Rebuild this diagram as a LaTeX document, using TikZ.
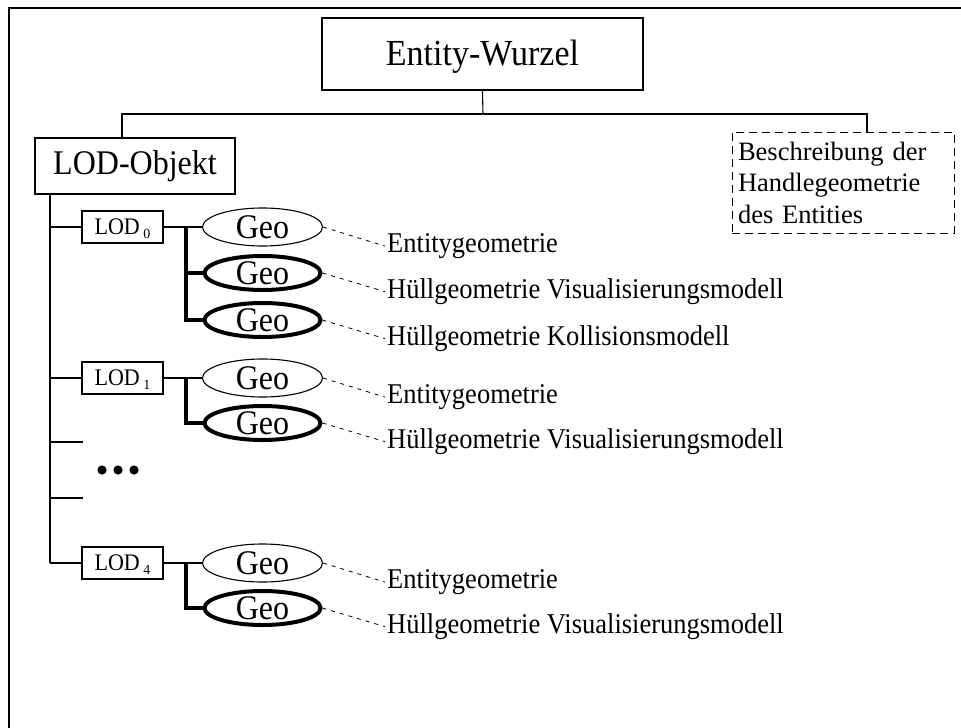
\documentclass[tikz,border=0pt]{standalone}
\usepackage{fontspec}
\setmainfont{Liberation Serif}
\usetikzlibrary{shapes.geometric,calc}
\begin{document}
\begin{tikzpicture}[x=1pt,y=-1pt,
  link/.style={line width=1.1pt},
  boxnode/.style={draw, line width=1.1pt, rectangle, inner sep=0pt},
  dashnote/.style={draw, line width=1pt, dash pattern=on 8pt off 5pt, rectangle,
    inner xsep=6pt, inner ysep=0pt, align=left, text width=210pt,
    font=\fontsize{26.5}{31.5}\selectfont},
  lodbox/.style={boxnode, minimum width=81pt, minimum height=32pt,
    font=\fontsize{22}{22}\selectfont, text height=15pt, text depth=1pt},
  geo/.style={ellipse, draw, line width=1.1pt, minimum width=120pt, minimum height=38pt,
    inner sep=0pt, font=\fontsize{32}{32}\selectfont},
  geohull/.style={geo, line width=4pt, minimum width=116pt, minimum height=34pt},
  hullbranch/.style={line width=3.5pt},
  note/.style={anchor=base west, inner sep=2pt, font=\fontsize{26.5}{26.5}\selectfont},
  leader/.style={dash pattern=on 4pt off 5pt, line width=0.8pt},
]
\newcommand{\tall}[1]{\scalebox{1}[1.08]{#1}}
\newcommand{\lodlabel}[1]{\tall{LOD}\,\raisebox{-4.5pt}{\fontsize{14}{14}\selectfont #1}}
\useasboundingbox (0,0) rectangle (961,728);

% outer frame (top and left edges)
\draw[line width=2.2pt] (961,8) -- (9,8) -- (9,728);

% root and its two children
\node[boxnode, minimum width=321pt, minimum height=72pt,
      font=\fontsize{34}{34}\selectfont, text height=30pt, text depth=8pt]
      (root) at (482.5,54) {\tall{Entity-Wurzel}};
\node[boxnode, minimum width=200pt, minimum height=56pt,
      font=\fontsize{32}{32}\selectfont] (lodobj) at (135,166) {\tall{LOD-Objekt}};
\node[dashnote, minimum height=101pt] (desc) at (843,182.5)
      {Beschreibung der\\Handlegeometrie\\des Entities};

\coordinate (bus) at (483,114);
\draw[link] (root.south) -- (bus);
\draw[link] ([xshift=-13pt]lodobj.north) |- (bus) -| ([xshift=24pt]desc.north);

% LOD levels
\node[lodbox] (l0) at (122.5,227) {\lodlabel{0}};
\node[lodbox] (l1) at (122.5,378) {\lodlabel{1}};
\node[lodbox] (l4) at (122.5,563) {\lodlabel{4}};

\coordinate (trunk) at (50,194);
\draw[link] (trunk) -- (trunk |- l4.west);
\draw[link] (trunk |- l0.west) -- (l0.west);
\draw[link] (trunk |- l1.west) -- (l1.west);
\draw[link] (trunk |- l4.west) -- (l4.west);
\coordinate (tick1) at (83,442);
\coordinate (tick2) at (83,498);
\draw[link] (tick1 -| trunk) -- (tick1);
\draw[link] (tick2 -| trunk) -- (tick2);

% ellipsis between the levels
\fill (102,470) circle (4.6pt);
\fill (118,470) circle (4.6pt);
\fill (134,470) circle (4.6pt);

% geometry of LOD 0
\node[geo]     (g0a) at (262.5,227) {\tall{Geo}};
\node[geohull] (g0b) at (262.5,273) {\tall{Geo}};
\node[geohull] (g0c) at (262.5,320) {\tall{Geo}};
\draw[link] (l0.east) -- (g0a.west);
\coordinate (j0) at (186,227);
\draw[hullbranch] (j0) |- (g0c.west);
\draw[hullbranch] (j0 |- g0b.west) -- (g0b.west);

% geometry of LOD 1
\node[geo]     (g1a) at (262.5,378) {\tall{Geo}};
\node[geohull] (g1b) at (262.5,423) {\tall{Geo}};
\draw[link] (l1.east) -- (g1a.west);
\coordinate (j1) at (186,378);
\draw[hullbranch] (j1) |- (g1b.west);

% geometry of LOD 4
\node[geo]     (g4a) at (262.5,563) {\tall{Geo}};
\node[geohull] (g4b) at (262.5,608) {\tall{Geo}};
\draw[link] (l4.east) -- (g4a.west);
\coordinate (j4) at (186,563);
\draw[hullbranch] (j4) |- (g4b.west);

% descriptions
\node[note] (n0a) at (385,252.5) {\tall{Entitygeometrie}};
\node[note] (n0b) at (385,298.5) {\tall{Hüllgeometrie Visualisierungsmodell}};
\node[note] (n0c) at (385,345.5) {\tall{Hüllgeometrie Kollisionsmodell}};
\node[note] (n1a) at (385,403.5) {\tall{Entitygeometrie}};
\node[note] (n1b) at (385,448.5) {\tall{Hüllgeometrie Visualisierungsmodell}};
\node[note] (n4a) at (385,588.5) {\tall{Entitygeometrie}};
\node[note] (n4b) at (385,633.5) {\tall{Hüllgeometrie Visualisierungsmodell}};

\draw[leader] (g0a.east) -- (n0a.west);
\draw[leader] (g0b.east) -- (n0b.west);
\draw[leader] (g0c.east) -- (n0c.west);
\draw[leader] (g1a.east) -- (n1a.west);
\draw[leader] (g1b.east) -- (n1b.west);
\draw[leader] (g4a.east) -- (n4a.west);
\draw[leader] (g4b.east) -- (n4b.west);
\end{tikzpicture}
\end{document}
